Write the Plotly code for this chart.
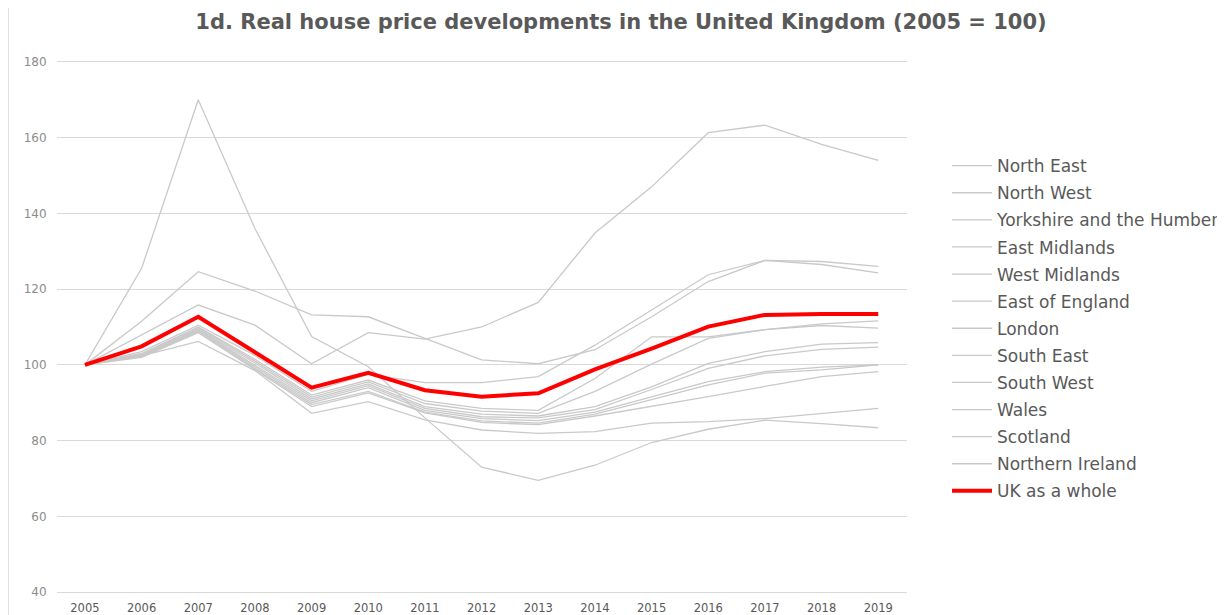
import plotly.graph_objects as go

years = [str(y) for y in range(2005, 2020)]

region_names = ["North East", "North West", "Yorkshire and the Humber", "East Midlands",
                "West Midlands", "East of England", "London", "South East", "South West",
                "Wales", "Scotland", "Northern Ireland"]

north_east = [100, 102.4, 106.2, 98.5, 87.2, 90.3, 85.5, 82.8, 81.9, 82.4, 84.6, 85, 85.8, 87.2, 88.5]
north_west = [100, 102, 108.5, 98.8, 89, 92.6, 87.3, 84.8, 84.2, 86.5, 89, 91.6, 94.3, 96.9, 98.2]
yorkshire = [100, 102.2, 108.8, 99, 89.5, 93, 87.5, 85.2, 84.6, 87, 90.8, 94.7, 97.8, 98.7, 100]
east_midlands = [100, 102.5, 109.3, 100, 90.5, 94.5, 88.5, 86.3, 86, 88.2, 93.5, 99.1, 102.4, 104.1, 104.7]
west_midlands = [100, 102.3, 109, 99.5, 90, 94, 88, 85.8, 85.3, 87.5, 91.5, 95.6, 98.2, 99.4, 100]
east_of_england = [100, 103.5, 110.5, 102.5, 93, 97.5, 95.3, 95.3, 96.9, 105.2, 114.5, 123.8, 127.6, 127.3, 126]
london = [100, 108, 115.8, 110.5, 100.3, 108.5, 106.8, 110, 116.5, 134.8, 147, 161.3, 163.3, 158.2, 154]
south_east = [100, 111.5, 124.6, 119.5, 113.2, 112.7, 107, 101.3, 100.3, 104, 112.7, 122, 127.6, 126.5, 124.3]
south_west = [100, 103, 110, 101.5, 92, 96, 90.5, 88.5, 88, 96.4, 107.4, 107.4, 109.3, 110.4, 109.7]
wales = [100, 102.6, 109.5, 100.5, 91, 95, 89, 87, 86.5, 89, 94.2, 100.4, 103.5, 105.5, 105.9]
scotland = [100, 102.8, 109.8, 101, 91.5, 95.5, 89.8, 87.8, 87.2, 93, 100.2, 107, 109.3, 110.8, 111.6]
northern_ireland = [100, 125.5, 170, 136, 107.5, 99.5, 86, 73, 69.5, 73.5, 79.5, 83, 85.4, 84.5, 83.4]

region_values = [north_east, north_west, yorkshire, east_midlands, west_midlands,
                 east_of_england, london, south_east, south_west, wales, scotland,
                 northern_ireland]

uk_name = "UK as a whole"
uk_values = [100, 104.9, 112.7, 103.4, 94, 97.9, 93.3, 91.6, 92.5, 98.8, 104.3, 110.1, 113.2, 113.4, 113.4]

title_text = "1d. Real house price developments in the United Kingdom (2005 = 100)"
y_ticks = [40, 60, 80, 100, 120, 140, 160, 180]

# page has an 8px body margin, so the figure is drawn 8px smaller and offset
W, H = 1217, 607
T, B = 52, 21
fig = go.Figure()
for name, vals in zip(region_names, region_values):
    fig.add_trace(go.Scatter(x=years, y=vals, name=name, mode="lines",
                             line=dict(color="#c9c9c9", width=1.3),
                             legendgroup=name))
fig.add_trace(go.Scatter(x=years, y=uk_values, name=uk_name, mode="lines",
                         line=dict(color="#ff0000", width=4), legendgroup=uk_name))

fig.update_layout(
    width=W, height=H,
    paper_bgcolor="white", plot_bgcolor="white",
    margin=dict(l=0, r=0, t=T, b=B),
    font=dict(family="DejaVu Sans", color="#595959"),
    title=dict(text="<b>" + title_text + "</b>", x=613 / W, xanchor="center",
               y=1 - 14 / H, yanchor="middle", yref="container",
               font=dict(family="DejaVu Sans", size=21, color="#595959")),
    xaxis=dict(domain=[48.6 / W, 898.6 / W], type="category", range=[-0.5, 14.5],
               showgrid=False, zeroline=False, showline=False, ticks="",
               ticklabelstandoff=5,
               tickfont=dict(size=11.5, color="#595959")),
    yaxis=dict(range=[39.5, 180.5], tickvals=y_ticks, showgrid=True, gridcolor="#d9d9d9",
               gridwidth=1, zeroline=False, showline=False, ticks="",
               ticklabelstandoff=9,
               tickfont=dict(size=12, color="#8c8c8c")),
    legend=dict(x=939 / W, xanchor="left", y=0.497, yanchor="middle",
                font=dict(size=17, color="#595959"), itemwidth=40,
                tracegroupgap=2, bgcolor="rgba(0,0,0,0)"),
    showlegend=True,
    shapes=[dict(type="line", xref="paper", yref="paper", x0=0.5 / W, x1=0.5 / W,
                 y0=-B / (H - T - B), y1=1 + T / (H - T - B),
                 line=dict(color="#e0e0e0", width=1))],
)

fig.write_html("out.html")
